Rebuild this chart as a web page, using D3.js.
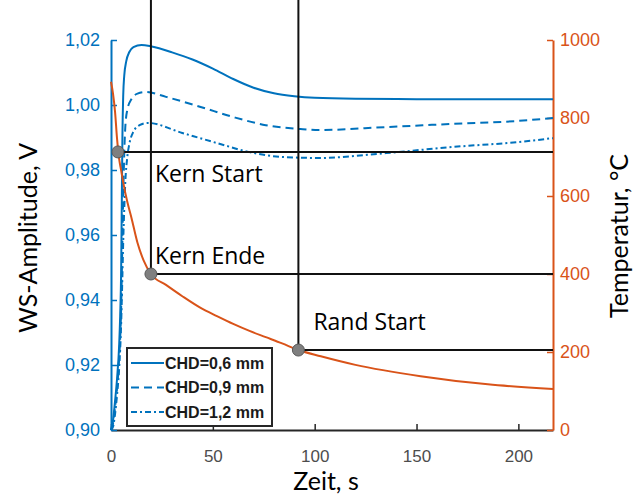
<!DOCTYPE html>
<html>
<head>
<meta charset="utf-8">
<script src="https://cdn.jsdelivr.net/npm/d3@7"></script>
<style>
  body { margin: 0; background: #fff; }
  svg { display: block; }
</style>
</head>
<body>
<svg width="635" height="496"></svg>
<script>
var blue = "#0072BD", orange = "#D95319";

// time axis (s)
var xTicks = [0, 50, 100, 150, 200];
var ampTicks = [0.90, 0.92, 0.94, 0.96, 0.98, 1.00, 1.02];
var tempTicks = [0, 200, 400, 600, 800, 1000];

// WS amplitude
var tChd06 = [0, 1, 2, 3, 4, 4.5, 5, 5.3, 5.6, 6, 6.5, 7.5, 9, 11, 15, 20, 30, 40, 50, 60, 70, 80, 90, 100, 120, 150, 217];
var vChd06 = [0.900, 0.903, 0.909, 0.916, 0.926, 0.935, 0.950, 0.970, 0.990, 1.003, 1.009, 1.0135, 1.0163, 1.0178, 1.0185, 1.0180, 1.0162, 1.0140, 1.0112, 1.0080, 1.0053, 1.0036, 1.0027, 1.0022, 1.0019, 1.0018, 1.0018];

var tChd09 = [0, 1, 2, 3, 4, 5, 5.5, 6, 6.5, 7, 8, 10, 13, 17, 27, 44, 60, 76, 93, 102, 135, 168, 200, 217];
var vChd09 = [0.900, 0.902, 0.907, 0.913, 0.922, 0.938, 0.955, 0.972, 0.985, 0.993, 0.9985, 1.0018, 1.0035, 1.0040, 1.0025, 0.9994, 0.9963, 0.9938, 0.9926, 0.9923, 0.9932, 0.9942, 0.9951, 0.9960];

var tChd12 = [0, 1, 2, 3, 4, 5, 5.5, 6, 6.5, 7, 8, 9, 11, 14, 18, 35, 52, 68, 84, 102, 135, 168, 200, 217];
var vChd12 = [0.900, 0.901, 0.905, 0.911, 0.919, 0.933, 0.945, 0.958, 0.968, 0.976, 0.984, 0.988, 0.9918, 0.9938, 0.9945, 0.9914, 0.9883, 0.9855, 0.9840, 0.9837, 0.9852, 0.9871, 0.9886, 0.9898];

// temperature (°C)
var tTemp = [0, 1, 2, 3, 4, 5, 6, 8, 10, 13, 16, 19.6, 27, 35, 44, 52, 60, 68, 76, 84, 92, 103, 120, 152, 185, 217];
var temp = [893, 862, 815, 745, 695, 665, 635, 585, 545, 480, 435, 400, 372, 343, 313, 292, 272, 254, 238, 222, 205, 189, 167, 138, 117, 105];

var seriesNames = ["CHD=0,6 mm", "CHD=0,9 mm", "CHD=1,2 mm"];
var seriesDash = ["none", "8,5", "6,3,2,3"];

// events on the temperature curve
var eventNames = ["Kern Start", "Kern Ende", "Rand Start"];
var eventTime = [3.4, 19.6, 92];
var eventTemp = [713, 400, 205];

var svg = d3.select("svg");

var x = d3.scaleLinear().domain([0, 217]).range([111, 553]);
var yA = d3.scaleLinear().domain([0.90, 1.02]).range([430, 40]);
var yT = d3.scaleLinear().domain([0, 1000]).range([430, 40]);

var zip = function(ts, vs){ return ts.map(function(t, i){ return [t, vs[i]]; }); };

var ampLine = d3.line()
  .x(function(d){ return x(d[0]); })
  .y(function(d){ return yA(d[1]); })
  .curve(d3.curveMonotoneX);
var tempLine = d3.line()
  .x(function(d){ return x(d[0]); })
  .y(function(d){ return yT(d[1]); })
  .curve(d3.curveMonotoneX);

var series = [zip(tChd06, vChd06), zip(tChd09, vChd09), zip(tChd12, vChd12)];

// axes
var comma = function(d){ return d3.format(".2f")(d).replace(".", ","); };

var gx = svg.append("g")
  .attr("transform", "translate(0," + yA(0.90) + ")")
  .call(d3.axisTop(x).tickValues(xTicks).tickSizeInner(6).tickSizeOuter(0).tickFormat(d3.format("d")));
gx.select(".domain").attr("stroke", "#262626").attr("stroke-width", 2);
gx.selectAll(".tick line").attr("stroke", "#262626").attr("stroke-width", 1.5);
gx.selectAll(".tick text")
  .attr("y", 32)
  .attr("fill", "#4d4d4d")
  .style("font", "17px 'Liberation Sans', Arial, sans-serif");

var gl = svg.append("g")
  .attr("transform", "translate(" + x(0) + ",0)")
  .call(d3.axisRight(yA).tickValues(ampTicks).tickSizeInner(6).tickSizeOuter(0).tickFormat(comma));
gl.select(".domain").attr("stroke", blue).attr("stroke-width", 2);
gl.selectAll(".tick line").attr("stroke", blue).attr("stroke-width", 1.5);
gl.selectAll(".tick text")
  .attr("x", -11)
  .attr("text-anchor", "end")
  .attr("fill", blue)
  .style("font", "18px 'Liberation Sans', Arial, sans-serif");

var gr = svg.append("g")
  .attr("transform", "translate(" + x(217) + ",0)")
  .call(d3.axisLeft(yT).tickValues(tempTicks).tickSizeInner(6).tickSizeOuter(0).tickFormat(d3.format("d")));
gr.select(".domain").attr("stroke", orange).attr("stroke-width", 2);
gr.selectAll(".tick line").attr("stroke", orange).attr("stroke-width", 1.5);
gr.selectAll(".tick text")
  .attr("x", 7)
  .attr("text-anchor", "start")
  .attr("fill", orange)
  .style("font", "18px 'Liberation Sans', Arial, sans-serif");

// axis titles
svg.append("text")
  .attr("transform", "translate(37,238) rotate(-90)")
  .attr("text-anchor", "middle")
  .style("font", "25px Lato, 'Open Sans', sans-serif")
  .text("WS-Amplitude, V");
svg.append("text")
  .attr("transform", "translate(628,236) rotate(-90)")
  .attr("text-anchor", "middle")
  .style("font", "25px Lato, 'Open Sans', sans-serif")
  .text("Temperatur, °C");
svg.append("text")
  .attr("x", 326).attr("y", 490)
  .attr("text-anchor", "middle")
  .style("font", "25px Lato, 'Open Sans', sans-serif")
  .text("Zeit, s");

// amplitude curves
svg.selectAll(".amp").data(series).enter().append("path")
  .attr("class", "amp")
  .attr("d", ampLine)
  .attr("fill", "none")
  .attr("stroke", blue)
  .attr("stroke-width", 2)
  .attr("stroke-dasharray", function(d, i){ return seriesDash[i]; });

// temperature curve
svg.append("path")
  .attr("d", tempLine(zip(tTemp, temp)))
  .attr("fill", "none")
  .attr("stroke", orange)
  .attr("stroke-width", 2);

// event guide lines
svg.selectAll(".hguide").data(eventTime).enter().append("line")
  .attr("x1", function(d){ return x(d); })
  .attr("x2", x(217))
  .attr("y1", function(d, i){ return yT(eventTemp[i]); })
  .attr("y2", function(d, i){ return yT(eventTemp[i]); })
  .attr("stroke", "#111")
  .attr("stroke-width", 2);
svg.selectAll(".vguide").data(eventTime.slice(1)).enter().append("line")
  .attr("x1", function(d){ return x(d); })
  .attr("x2", function(d){ return x(d); })
  .attr("y1", 0)
  .attr("y2", function(d, i){ return yT(eventTemp[i + 1]); })
  .attr("stroke", "#111")
  .attr("stroke-width", 2);
svg.selectAll(".marker").data(eventTime).enter().append("circle")
  .attr("cx", function(d){ return x(d); })
  .attr("cy", function(d, i){ return yT(eventTemp[i]); })
  .attr("r", 6)
  .attr("fill", "#7f7f7f")
  .attr("stroke", "#595959")
  .attr("stroke-width", 1);

var labelDx = [37, 4, 15];
var labelDy = [30, -10, -20];
svg.selectAll(".evlabel").data(eventNames).enter().append("text")
  .attr("x", function(d, i){ return x(eventTime[i]) + labelDx[i]; })
  .attr("y", function(d, i){ return yT(eventTemp[i]) + labelDy[i]; })
  .style("font", "23px 'Open Sans', Lato, sans-serif")
  .text(function(d){ return d; });

// legend
var lg = svg.append("g").attr("transform", "translate(127,348)");
lg.append("rect")
  .attr("width", 145).attr("height", 78)
  .attr("fill", "#fff")
  .attr("stroke", "#262626")
  .attr("stroke-width", 2);
var item = lg.selectAll(".item").data(seriesNames).enter().append("g")
  .attr("transform", function(d, i){ return "translate(0," + (15 + i * 24.5) + ")"; });
item.append("line")
  .attr("x1", 4).attr("x2", 37)
  .attr("stroke", blue)
  .attr("stroke-width", 2)
  .attr("stroke-dasharray", function(d, i){ return seriesDash[i]; });
item.append("text")
  .attr("x", 38).attr("dy", "0.35em")
  .style("font", "bold 16px 'Liberation Sans', Arial, sans-serif")
  .attr("fill", "#1a1a1a")
  .text(function(d){ return d; });
</script>
</body>
</html>
